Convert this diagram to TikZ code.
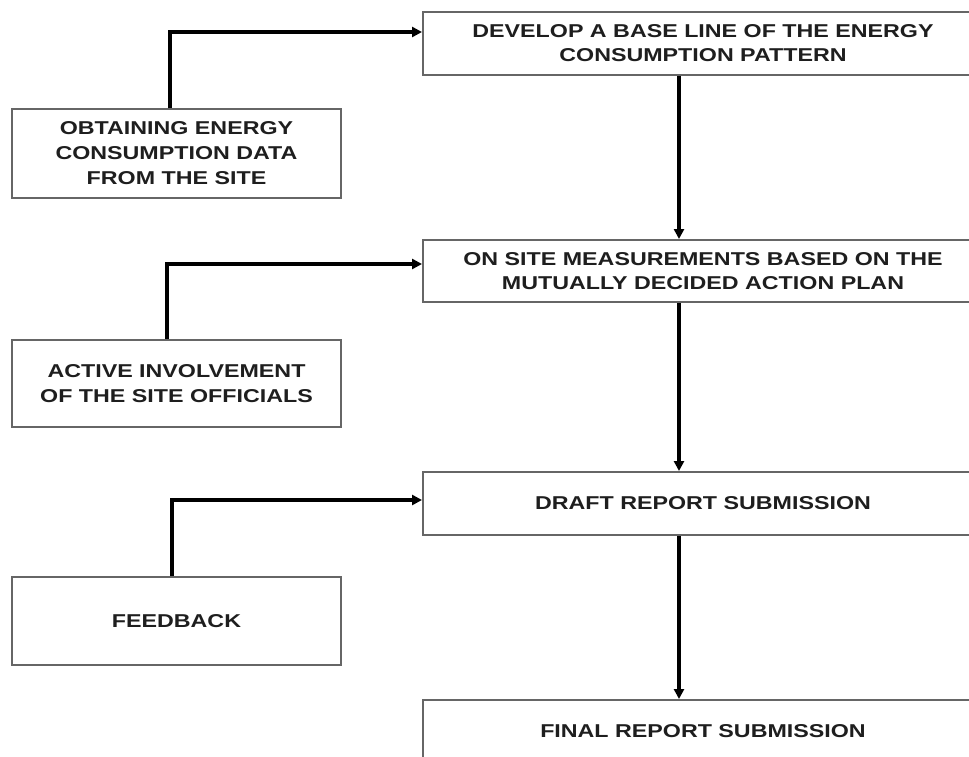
\documentclass[tikz,border=0pt]{standalone}
\usepackage{fontspec}
\setmainfont{Liberation Sans}[FakeStretch=1.25]
\usetikzlibrary{arrows.meta}
\definecolor{boxline}{HTML}{666666}
\definecolor{txt}{HTML}{1E1E1E}
\tikzset{
  leftbox/.style={draw=boxline, line width=2pt, minimum width=329pt, minimum height=88pt, inner sep=0pt, align=center, text=txt, font=\fontsize{18.6}{25}\selectfont\bfseries},
  rightbox/.style={draw=boxline, line width=2pt, minimum width=560pt, minimum height=63pt, inner sep=0pt, align=center, text=txt, font=\fontsize{18.6}{24}\selectfont\bfseries},
  conn/.style={line width=3.4pt, black, -{Triangle[length=10pt,width=10pt]}}
}
\begin{document}
\begin{tikzpicture}[x=1pt,y=-1pt]
\useasboundingbox[fill=white] (0,0) rectangle (969,757);
% left boxes
\node[leftbox] (A) at (176.5,153.5) {OBTAINING ENERGY\\CONSUMPTION DATA\\FROM THE SITE};
\node[leftbox, minimum height=87pt] (B) at (176.5,383.5) {ACTIVE INVOLVEMENT\\OF THE SITE OFFICIALS};
\node[leftbox] (C) at (176.5,621) {FEEDBACK};
% right boxes
\node[rightbox] (R1) at (703,43.5) {DEVELOP A BASE LINE OF THE ENERGY\\CONSUMPTION PATTERN};
\node[rightbox, minimum height=62pt] (R2) at (703,271) {ON SITE MEASUREMENTS BASED ON THE\\MUTUALLY DECIDED ACTION PLAN};
\node[rightbox] (R3) at (703,503.5) {DRAFT REPORT SUBMISSION};
\node[rightbox, minimum height=62pt] (R4) at (703,731) {FINAL REPORT SUBMISSION};
% side connectors
\draw[conn] ([xshift=-6.5pt]A.north) |- ([yshift=11.5pt]R1.west);
\draw[conn] ([xshift=-9.5pt]B.north) |- ([yshift=7pt]R2.west);
\draw[conn] ([xshift=-4.5pt]C.north) |- ([yshift=3.5pt]R3.west);
% main flow
\draw[conn] ([xshift=-24pt]R1.south) -- ([xshift=-24pt]R2.north);
\draw[conn] ([xshift=-24pt]R2.south) -- ([xshift=-24pt]R3.north);
\draw[conn] ([xshift=-24pt]R3.south) -- ([xshift=-24pt]R4.north);
\end{tikzpicture}
\end{document}
